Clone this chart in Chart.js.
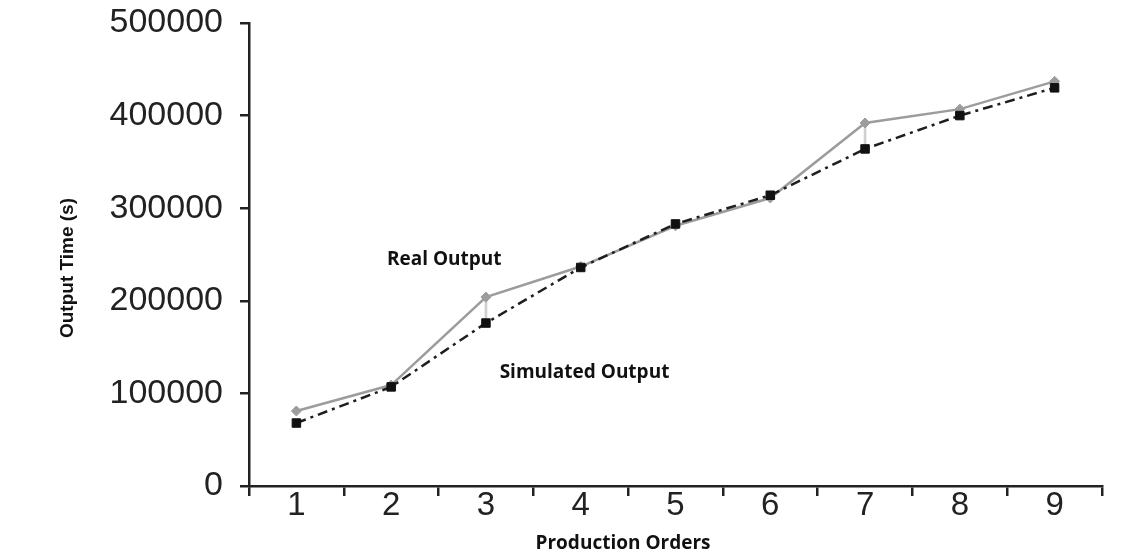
<!DOCTYPE html>
<html>
<head>
<meta charset="utf-8">
<script src="https://cdn.jsdelivr.net/npm/chart.js@4/dist/chart.umd.min.js"></script>
<style>
  html, body { margin: 0; padding: 0; background: #fff; }
  #chart-box { display: block; }
</style>
</head>
<body>
<canvas id="chart-box" width="1138" height="558"></canvas>
<script>
// values
const orders = ['1', '2', '3', '4', '5', '6', '7', '8', '9'];
const realOutput = [81000, 109000, 204000, 237000, 281000, 311000, 392000, 407000, 437000];
const simulatedOutput = [68000, 107000, 176000, 236000, 283000, 314000, 364000, 400000, 430000];
// the thin grey links between the two series (only visible at 3 and 7)
const gapLinks = [null, null, [176000, 204000], null, null, null, [364000, 392000], null, null];
const yTicks = [0, 100000, 200000, 300000, 400000, 500000];

const ctx = document.getElementById('chart-box');

// axis titles + the two in-plot labels
const textPlugin = {
    id: 'textPlugin',
    afterDraw(chart) {
        const c = chart.ctx;
        const xs = chart.scales.x;
        const ys = chart.scales.y;
        c.save();
        c.fillStyle = '#111';
        c.textAlign = 'center';
        c.textBaseline = 'middle';
        c.font = 'bold 19px "Open Sans"';
        c.fillText('Real Output', xs.getPixelForValue(1.56), ys.getPixelForValue(245000));
        c.fillText('Simulated Output', xs.getPixelForValue(3.04), ys.getPixelForValue(123000));
        c.fillText('Production Orders', 623, 544);

        c.translate(68, 268);
        c.rotate(-Math.PI / 2);
        c.font = 'bold 19px "Liberation Sans"';
        c.fillText('Output Time (s)', 0, 0);
        c.restore();
    }
};

const myChart = new Chart(ctx, {
    type: 'line',
    data: {
        labels: orders,
        datasets: [
        {
            label: 'Simulated Output',
            data: simulatedOutput,
            borderColor: '#1e1e1e',
            borderWidth: 2.5,
            borderDash: [10, 5, 3, 5],
            pointStyle: 'rect',
            pointRadius: 6,
            pointBackgroundColor: '#111',
            pointBorderColor: '#111',
            pointBorderWidth: 1,
            tension: 0,
            order: 1
        },
        {
            label: 'Real Output',
            data: realOutput,
            borderColor: '#9c9c9c',
            borderWidth: 2.5,
            pointStyle: 'rectRot',
            pointRadius: 5,
            pointBackgroundColor: '#9c9c9c',
            pointBorderColor: '#9c9c9c',
            pointBorderWidth: 1,
            tension: 0,
            order: 2
        },
        {
            type: 'bar',
            label: 'gap',
            data: gapLinks,
            backgroundColor: '#cfcfcf',
            barThickness: 2,
            order: 3
        }]
    },
    options: {
        responsive: false,
        animation: false,
        layout: {
            padding: { left: 0, right: 36, top: 23, bottom: 0 }
        },
        plugins: {
            legend: { display: false },
            tooltip: { enabled: false }
        },
        scales: {
            x: {
                type: 'category',
                offset: true,
                grid: {
                    display: true,
                    offset: true,
                    drawOnChartArea: false,
                    drawTicks: true,
                    tickLength: 10,
                    color: '#222',
                    lineWidth: 2.5
                },
                border: { display: true, color: '#222', width: 2.5 },
                ticks: {
                    color: '#222',
                    padding: -10,
                    font: { family: '"Liberation Sans", Arial', size: 33 }
                },
                afterFit: (s) => { s.height = 72; s.paddingLeft = 0; s.paddingRight = 0; }
            },
            y: {
                min: 0,
                max: 500000,
                afterBuildTicks: (s) => { s.ticks = yTicks.map(v => ({ value: v })); },
                grid: {
                    display: true,
                    drawOnChartArea: false,
                    drawTicks: true,
                    tickLength: 9,
                    color: '#222',
                    lineWidth: 2.5
                },
                border: { display: true, color: '#222', width: 2.5 },
                ticks: {
                    color: '#222',
                    padding: 17,
                    font: { family: '"Liberation Sans", Arial', size: 34 },
                    callback: (v) => String(v)
                },
                afterFit: (s) => { s.width = 249; s.paddingTop = 0; s.paddingBottom = 0; }
            }
        }
    },
    plugins: [textPlugin]
});
</script>
</body>
</html>
